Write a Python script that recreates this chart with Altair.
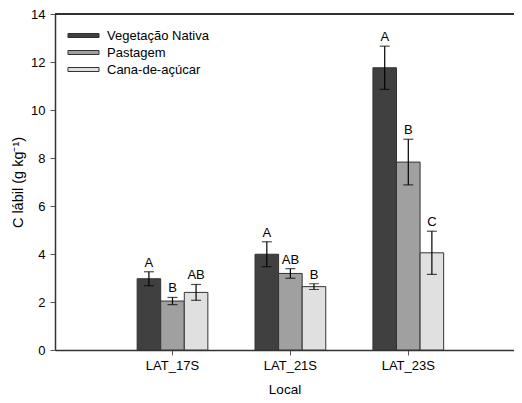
import altair as alt
import pandas as pd

local = ["LAT_17S", "LAT_21S", "LAT_23S"]
uso = ["Vegetação Nativa", "Pastagem", "Cana-de-açúcar"]
cores = ["#404040", "#a0a0a0", "#e0e0e0"]

media_vn = [2.97, 3.99, 11.76]
media_pa = [2.04, 3.19, 7.83]
media_ca = [2.40, 2.64, 4.05]
erro_vn = [0.29, 0.52, 0.90]
erro_pa = [0.15, 0.20, 0.95]
erro_ca = [0.33, 0.12, 0.90]
letra_vn = ["A", "A", "A"]
letra_pa = ["B", "AB", "B"]
letra_ca = ["AB", "B", "C"]

rows = []
for u, m, e, l in [(uso[0], media_vn, erro_vn, letra_vn),
                   (uso[1], media_pa, erro_pa, letra_pa),
                   (uso[2], media_ca, erro_ca, letra_ca)]:
    for i, loc in enumerate(local):
        rows.append({"local": loc, "uso": u, "media": m[i],
                     "lo": m[i] - e[i], "hi": m[i] + e[i], "letra": l[i]})
df = pd.DataFrame(rows)

FONT = "Liberation Sans"
W, H = 459, 336

x = alt.X("local:N", sort=local,
          scale=alt.Scale(paddingOuter=0.4466, paddingInner=0, align=0.556),
          axis=alt.Axis(title="Local", labelAngle=0, labelFontSize=13,
                        titleFontSize=13.5, titleFontWeight="normal",
                        tickSize=5, labelPadding=4, titlePadding=10,
                        domainColor="#333333", domainWidth=1.5,
                        tickColor="#555555", labelColor="#000000",
                        titleColor="#000000"))
xo = alt.XOffset("uso:N", sort=uso,
                 scale=alt.Scale(paddingOuter=1, paddingInner=0))
yscale = alt.Scale(domain=[0, 14], nice=False)

bars = alt.Chart(df).mark_bar(stroke="#333333", strokeWidth=1).encode(
    x=x, xOffset=xo,
    y=alt.Y("media:Q", scale=yscale,
            axis=alt.Axis(title="C lábil (g kg⁻¹)", values=list(range(0, 15, 2)),
                          labelFontSize=13, titleFontSize=14.5,
                          titleFontWeight="normal", tickSize=5, labelPadding=5,
                          titlePadding=5, domainColor="#333333", domainWidth=1.5,
                          tickColor="#555555", labelColor="#000000",
                          titleColor="#000000", grid=False)),
    color=alt.Color("uso:N", sort=uso,
                    scale=alt.Scale(domain=uso, range=cores),
                    legend=alt.Legend(title=None, orient="none", legendX=20,
                                      legendY=13, padding=0,
                                      symbolType="M-1.94,-0.25H1.94V0.25H-1.94Z",
                                      symbolSize=256, symbolStrokeColor="#333333",
                                      symbolStrokeWidth=1, labelFontSize=13,
                                      labelColor="#000000", labelOffset=15,
                                      rowPadding=1)),
)

rule = alt.Chart(df).mark_rule(color="#000000", strokeWidth=1.2).encode(
    x=x, xOffset=xo, y=alt.Y("lo:Q", scale=yscale), y2="hi:Q")
cap_hi = alt.Chart(df).mark_tick(color="#000000", size=10, thickness=1.2).encode(
    x=x, xOffset=xo, y=alt.Y("hi:Q", scale=yscale))
cap_lo = alt.Chart(df).mark_tick(color="#000000", size=10, thickness=1.2).encode(
    x=x, xOffset=xo, y=alt.Y("lo:Q", scale=yscale))
letras = alt.Chart(df).mark_text(fontSize=13, font=FONT, dy=-5,
                                 baseline="alphabetic", color="#000000").encode(
    x=x, xOffset=xo, y=alt.Y("hi:Q", scale=yscale), text="letra:N")
topo = alt.Chart(df).mark_rule(color="#333333", strokeWidth=1.5).encode(
    x=alt.value(0), x2=alt.value(W), y=alt.value(0))

chart = alt.layer(bars, rule, cap_hi, cap_lo, letras, topo).properties(
    width=W, height=H,
    autosize=alt.AutoSizeParams(type="none"),
    padding={"left": 47, "top": 6, "right": 0, "bottom": 45},
).configure(font=FONT).configure_view(stroke=None)

chart.save("out.html", embed_options={"renderer": "svg", "actions": False})
